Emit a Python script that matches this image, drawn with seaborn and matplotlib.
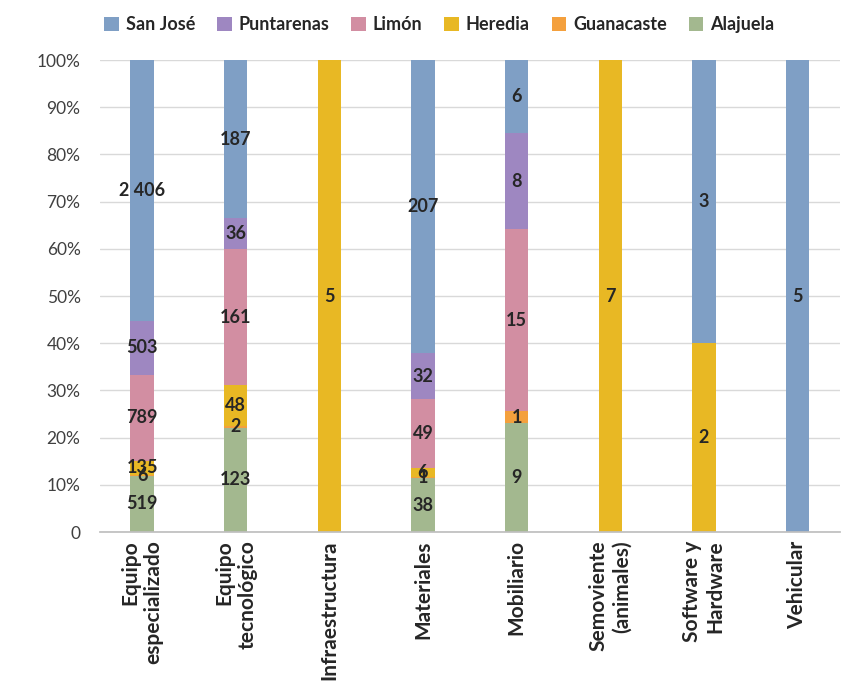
import numpy as np
import pandas as pd
import matplotlib
matplotlib.use("Agg")
import matplotlib.pyplot as plt
import seaborn as sns
from matplotlib.patches import Patch

categories = ["Equipo\nespecializado", "Equipo\ntecnológico", "Infraestructura",
              "Materiales", "Mobiliario", "Semoviente\n(animales)",
              "Software y\nHardware", "Vehicular"]

alajuela   = [519, 123, 0, 38, 9, 0, 0, 0]
guanacaste = [6, 2, 0, 1, 1, 0, 0, 0]
heredia    = [135, 48, 5, 6, 0, 7, 2, 0]
limon      = [789, 161, 0, 49, 15, 0, 0, 0]
puntarenas = [503, 36, 0, 32, 8, 0, 0, 0]
san_jose   = [2406, 187, 0, 207, 6, 0, 3, 5]

series_names = ["Alajuela", "Guanacaste", "Heredia", "Limón", "Puntarenas", "San José"]
series_vals = [alajuela, guanacaste, heredia, limon, puntarenas, san_jose]
colors = {"San José": "#7f9fc5", "Puntarenas": "#9e87c1", "Limón": "#d28ea2",
          "Heredia": "#e8b824", "Guanacaste": "#f4a03d", "Alajuela": "#a3b88f"}

yticks = [0, 0.1, 0.2, 0.3, 0.4, 0.5, 0.6, 0.7, 0.8, 0.9, 1.0]
ytick_labels = ["0", "10%", "20%", "30%", "40%", "50%", "60%", "70%", "80%", "90%", "100%"]

sns.set_theme(style="white")
plt.rcParams["font.family"] = ["Lato", "DejaVu Sans"]

fig = plt.figure(figsize=(8.65, 6.87), dpi=100)
ax = fig.add_axes([0.1156, 0.2256, 0.855, 0.687])

vals = np.array(series_vals, dtype=float)
totals = vals.sum(axis=0)
pct = vals / totals
bottom = np.zeros(len(categories))
for name, p, v in zip(series_names, pct, vals):
    df = pd.DataFrame({"cat": categories, "pct": p})
    sns.barplot(data=df, x="cat", y="pct", order=categories, color=colors[name],
                width=0.25, bottom=bottom, ax=ax, saturation=1, linewidth=0)
    for i in range(len(categories)):
        if v[i] > 0:
            txt = f"{int(v[i]):,}".replace(",", " ")
            ax.text(i, bottom[i] + p[i] / 2, txt, ha="center", va="center",
                    fontsize=13, fontweight="bold", color="#262626")
    bottom = bottom + p

ax.set_ylim(0, 1.0)
ax.set_xlim(-0.45, 7.45)
ax.set_yticks(yticks)
ax.set_yticklabels(ytick_labels, fontsize=12.5, color="#404040")
ax.yaxis.grid(True, color="#d9d9d9", linewidth=1)
ax.set_axisbelow(True)
for s in ["top", "right", "left"]:
    ax.spines[s].set_visible(False)
ax.spines["bottom"].set_color("#bfbfbf")
ax.tick_params(axis="y", length=0, pad=14)
ax.tick_params(axis="x", length=0, pad=6)
ax.set_xlabel("")
ax.set_ylabel("")
ax.set_xticks(range(len(categories)))
ax.set_xticklabels(categories, rotation=90, fontsize=15, fontweight="bold",
                   color="#262626", ha="center", va="top", multialignment="right")

legend_order = ["San José", "Puntarenas", "Limón", "Heredia", "Guanacaste", "Alajuela"]
handles = [Patch(facecolor=colors[n], edgecolor="none") for n in legend_order]
fig.legend(handles, legend_order, loc="upper center", bbox_to_anchor=(0.508, 1.0),
           ncol=6, frameon=False, prop={"weight": "bold", "size": 13},
           handlelength=0.8, handleheight=0.8, handletextpad=0.4, columnspacing=1.2)

fig.savefig("out.png", dpi=100)
